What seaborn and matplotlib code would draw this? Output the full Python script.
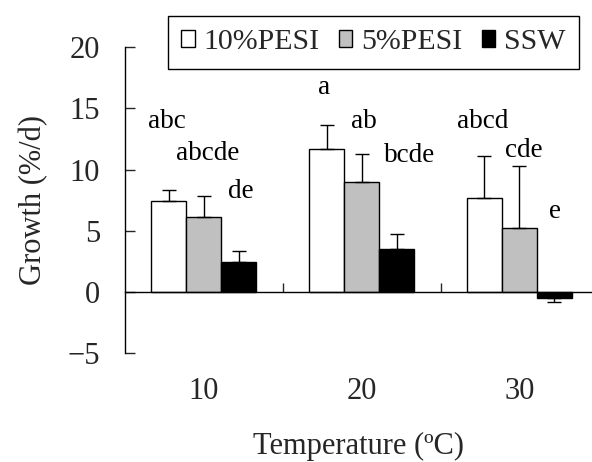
import numpy as np
import pandas as pd
import matplotlib
matplotlib.use("Agg")
import matplotlib.pyplot as plt
import seaborn as sns

# ---- data ----
temperatures = ["10", "20", "30"]
series_names = ["10%PESI", "5%PESI", "SSW"]
growth_10pesi = [7.45, 11.67, 7.65]
growth_5pesi = [6.15, 8.95, 5.22]
growth_ssw = [2.45, 3.54, -0.52]
err_10pesi = [0.88, 1.99, 3.42]
err_5pesi = [1.69, 2.32, 5.07]
err_ssw = [0.90, 1.17, 0.27]
letters_10pesi = ["abc", "a", "abcd"]
letters_5pesi = ["abcde", "ab", "cde"]
letters_ssw = ["de", "bcde", "e"]

# ---- layout of the significance letters (x in category units, baseline y) ----
letter_x = {
    "10%PESI": [-0.236, 0.764, 1.764],
    "5%PESI": [0.025, 1.012, 2.025],
    "SSW": [0.231, 1.303, 2.225],
}
letter_y = {
    "10%PESI": [13.41, 16.14, 13.41],
    "5%PESI": [10.78, 13.41, 11.0],
    "SSW": [7.65, 10.64, 6.02],
}

df = pd.DataFrame({
    "Temperature": temperatures * 3,
    "Series": [s for s in series_names for _ in temperatures],
    "Growth": growth_10pesi + growth_5pesi + growth_ssw,
})
errs = {"10%PESI": err_10pesi, "5%PESI": err_5pesi, "SSW": err_ssw}
letters = {"10%PESI": letters_10pesi, "5%PESI": letters_5pesi, "SSW": letters_ssw}

sns.set_style("white")
plt.rcParams["font.family"] = ["Liberation Serif", "DejaVu Serif"]
plt.rcParams["axes.unicode_minus"] = True

fig = plt.figure(figsize=(5.92, 4.62), dpi=100)
ax = fig.add_axes([125 / 592, 1 - 353.3 / 462, 1 - 125 / 592, (353.3 - 47) / 462])

palette = {"10%PESI": "white", "5%PESI": "#c0c0c0", "SSW": "black"}
sns.barplot(data=df, x="Temperature", y="Growth", hue="Series",
            hue_order=series_names, order=temperatures, palette=palette,
            errorbar=None, width=0.666, gap=0, edgecolor="black",
            linewidth=1.0, saturation=1, ax=ax, legend=True)

# error bars (one-sided, away from zero)
for cont, name in zip(ax.containers, series_names):
    for bar, e in zip(cont, errs[name]):
        x = bar.get_x() + bar.get_width() / 2
        y0, y1 = bar.get_y(), bar.get_y() + bar.get_height()
        val = y1 if abs(y1) > abs(y0) else y0
        if val >= 0:
            yerr = [[0], [e]]
        else:
            yerr = [[e], [0]]
        ax.errorbar([x], [val], yerr=yerr, fmt="none", ecolor="black",
                    elinewidth=1.0, capsize=4.7, capthick=1.0, zorder=1)

# significance letters
for name in series_names:
    for i, lab in enumerate(letters[name]):
        ax.text(letter_x[name][i], letter_y[name][i], lab, ha="center",
                va="baseline", fontsize=19.5, color="black")

ax.set_ylim(-5, 20)
ax.set_xlim(-0.5, 2.46)
ax.set_yticks([-5, 0, 5, 10, 15, 20])
ax.tick_params(axis="y", direction="in", length=7.2, width=1.0,
               labelsize=22, pad=18, left=True)
ax.spines["top"].set_visible(False)
ax.spines["right"].set_visible(False)
ax.spines["bottom"].set_position(("data", 0))
for sp in ["left", "bottom"]:
    ax.spines[sp].set_color("black")
    ax.spines[sp].set_linewidth(1.0)
ax.set_xticks([0, 1, 2])
ax.set_xticklabels(temperatures)
ax.set_xticks([0.5, 1.5], minor=True)
ax.tick_params(axis="x", which="major", length=0, labelsize=22, pad=61)
ax.tick_params(axis="x", which="minor", direction="in", length=6.2,
               width=1.0, bottom=True)
ax.set_xlabel("Temperature (ºC)", fontsize=22, labelpad=19)
ax.set_ylabel("Growth (%/d)", fontsize=22, labelpad=14)

handles, labels = ax.get_legend_handles_labels()
ax.get_legend().remove()
leg = fig.legend(handles, labels, loc="center",
                 bbox_to_anchor=((168 + 579) / 2 / 592, 1 - (15.7 + 69) / 2 / 462),
                 ncol=3, fontsize=21.5, frameon=True, fancybox=False,
                 edgecolor="black", framealpha=1, handlelength=0.45,
                 handleheight=0.5, handletextpad=0.3, columnspacing=0.65,
                 borderpad=0.45, borderaxespad=0)
leg.get_frame().set_linewidth(1.0)
for h in leg.legend_handles:
    h.set_edgecolor("black")
    h.set_linewidth(1.0)

fig.savefig("out.png", dpi=100, facecolor="white")
